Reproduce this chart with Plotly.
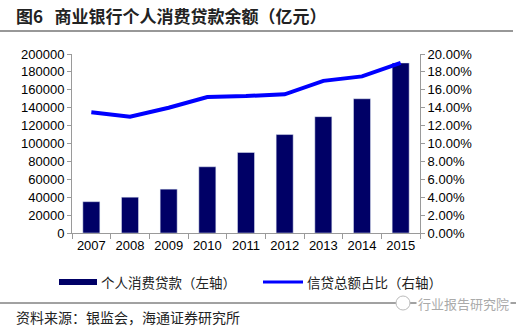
import plotly.graph_objects as go

years = ["2007", "2008", "2009", "2010", "2011", "2012", "2013", "2014", "2015"]
consumer_loans = [35000, 40000, 49000, 74000, 90000, 110000, 130000, 150000, 190000]
credit_share = [0.135, 0.130, 0.140, 0.152, 0.153, 0.155, 0.170, 0.175, 0.190]
left_ticks = [0, 20000, 40000, 60000, 80000, 100000, 120000, 140000, 160000, 180000, 200000]
right_ticks = [0, 0.02, 0.04, 0.06, 0.08, 0.10, 0.12, 0.14, 0.16, 0.18, 0.20]

bar_name = "个人消费贷款（左轴）"
line_name = "信贷总额占比（右轴）"
title_text = "<b>图6   商业银行个人消费贷款余额（亿元）</b>"
source_text = "资料来源：银监会，海通证券研究所"

W, H = 516, 327
BAR_COLOR = "#000066"
LINE_COLOR = "#0000FF"
AXIS_COLOR = "#9a9a9a"
FONT = "Liberation Sans, Arial, Noto Sans CJK SC"
CJK = "Noto Sans CJK SC, Liberation Sans"

def px(x):
    return x / W

def py(y):
    return 1 - y / H

fig = go.Figure()
fig.add_trace(go.Bar(x=years, y=consumer_loans, name=bar_name, marker_color=BAR_COLOR,
                     width=0.44, yaxis="y", showlegend=False))
fig.add_trace(go.Scatter(x=years, y=credit_share, name=line_name, mode="lines",
                         line=dict(color=LINE_COLOR, width=4), yaxis="y2", showlegend=False))

fig.update_layout(
    width=W, height=H,
    margin=dict(l=0, r=0, t=0, b=0),
    paper_bgcolor="white", plot_bgcolor="white",
    font=dict(family=FONT, size=13, color="#000000"),
    xaxis=dict(domain=[px(72), px(420)], type="category", range=[-0.5, 8.5],
               showline=True, linecolor=AXIS_COLOR, linewidth=1,
               ticks="outside", ticklen=5, tickcolor=AXIS_COLOR, tickson="boundaries",
               showgrid=False, automargin=False, tickfont=dict(size=13, family=FONT)),
    yaxis=dict(domain=[1 - 233 / H, 1 - 54 / H], range=[0, 200000], tickvals=left_ticks,
               showline=True, linecolor=AXIS_COLOR, linewidth=1,
               ticks="outside", ticklen=4, tickcolor=AXIS_COLOR,
               showgrid=False, zeroline=False, automargin=False, tickformat="d",
               tickfont=dict(size=13, family=FONT)),
    yaxis2=dict(overlaying="y", side="right", range=[0, 0.20], tickvals=right_ticks,
                tickformat=".2%", showline=True, linecolor=AXIS_COLOR, linewidth=1,
                ticks="outside", ticklen=4, tickcolor=AXIS_COLOR,
                showgrid=False, zeroline=False, automargin=False,
                tickfont=dict(size=13, family=FONT)),
    bargap=0.56,
)

shapes = [
    # rule under title
    dict(type="line", xref="paper", yref="paper", x0=px(0), x1=px(513), y0=py(31), y1=py(31),
         line=dict(color="#333333", width=1.2)),
    # rule above source
    dict(type="line", xref="paper", yref="paper", x0=px(0), x1=px(516), y0=py(303), y1=py(303),
         line=dict(color="#444444", width=1)),
    # legend symbols
    dict(type="rect", xref="paper", yref="paper", x0=px(59), x1=px(97), y0=py(285), y1=py(279),
         fillcolor=BAR_COLOR, line=dict(width=0)),
    dict(type="line", xref="paper", yref="paper", x0=px(263), x1=px(303), y0=py(282), y1=py(282),
         line=dict(color=LINE_COLOR, width=3)),
    # watermark icon
    dict(type="circle", xref="paper", yref="paper", x0=px(396), x1=px(410), y0=py(310), y1=py(296),
         line=dict(color="#bbbbbb", width=1), fillcolor="white"),
]
fig.update_layout(shapes=shapes)

annotations = [
    dict(text=title_text, x=px(14), y=py(16), xref="paper", yref="paper", xanchor="left",
         yanchor="middle", showarrow=False, font=dict(size=17, family=CJK, color="#222222")),
    dict(text=bar_name, x=px(99), y=py(282), xref="paper", yref="paper", xanchor="left",
         yanchor="middle", showarrow=False, font=dict(size=13.5, family=CJK, color="#222222")),
    dict(text=line_name, x=px(305), y=py(282), xref="paper", yref="paper", xanchor="left",
         yanchor="middle", showarrow=False, font=dict(size=13.5, family=CJK, color="#222222")),
    dict(text=source_text, x=px(14), y=py(317), xref="paper", yref="paper", xanchor="left",
         yanchor="middle", showarrow=False, font=dict(size=14, family=CJK, color="#222222")),
    dict(text="行业报告研究院", x=px(416), y=py(303), xref="paper", yref="paper", xanchor="left",
         yanchor="middle", showarrow=False, bgcolor="white",
         font=dict(size=13, family=CJK, color="#aaaaaa")),
]
fig.update_layout(annotations=annotations)

fig.write_html("out.html")
